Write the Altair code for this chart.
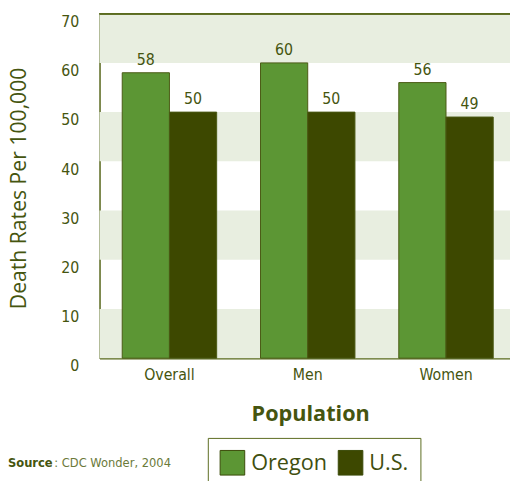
import altair as alt
import pandas as pd

categories = ["Overall", "Men", "Women"]
series = ["Oregon", "U.S."]
oregon = [58, 60, 56]
us = [50, 50, 49]
y_ticks = [0, 10, 20, 30, 40, 50, 60, 70]
band_lo = [0, 20, 40, 60]
band_hi = [10, 30, 50, 70]

W, H = 423, 350
OLIVE = "#5b6b1f"
DARK = "#45550f"
FONT_N = "'Liberation Sans Narrow', 'DejaVu Sans Condensed', 'Roboto Condensed', 'Liberation Sans', sans-serif"
FONT = "Open Sans"

rows = []
for c, o, u in zip(categories, oregon, us):
    rows.append({"Population": c, "Series": "Oregon", "Value": o})
    rows.append({"Population": c, "Series": "U.S.", "Value": u})
df = pd.DataFrame(rows)
bands = pd.DataFrame({"lo": band_lo, "hi": band_hi})

yscale = alt.Scale(domain=[0, 70], nice=False)
xscale = alt.Scale(domain=categories, paddingInner=0.317, paddingOuter=0.164)

band_layer = alt.Chart(bands).mark_rect(color="#e8eee0").encode(
    y=alt.Y("lo:Q", scale=yscale),
    y2="hi:Q",
    x=alt.value(0),
    x2=alt.value(W),
)

top_rule = alt.Chart(bands).mark_rule(color=OLIVE, strokeWidth=1.5).encode(
    y=alt.value(0), x=alt.value(0), x2=alt.value(W)
)

xaxis = alt.Axis(
    labelFont=FONT_N, labelFontSize=16, labelColor=DARK, labelAngle=0,
    ticks=False, tickSize=0, labelPadding=9, domainColor=OLIVE, domainWidth=1.5,
    title="Population", titleFont=FONT, titleFontSize=22, titleFontWeight="bold",
    titleColor=DARK, titleX=214, titleY=63, titleBaseline="alphabetic", titleAlign="center",
)
yaxis = alt.Axis(
    values=y_ticks, grid=False, ticks=False, tickSize=0,
    labelFont=FONT_N, labelFontSize=16, labelColor=DARK, labelPadding=21, labelOffset=8,
    domainColor=OLIVE, domainWidth=1.5,
    title="Death Rates Per 100,000", titleFont=FONT, titleFontSize=21.5, titleFontWeight="normal",
    titleColor=DARK, titleX=-81, titleY=177, titleAngle=270, titleAlign="center", titleBaseline="middle",
)

bars = alt.Chart(df).mark_bar(stroke="#4a5a14", strokeWidth=1).encode(
    x=alt.X("Population:N", scale=xscale, axis=xaxis, sort=categories),
    xOffset=alt.XOffset("Series:N", sort=series, scale=alt.Scale(paddingInner=0, paddingOuter=0)),
    y=alt.Y("Value:Q", scale=yscale, axis=yaxis),
    color=alt.Color(
        "Series:N",
        sort=series,
        scale=alt.Scale(domain=series, range=["#5c9634", "#3d4800"]),
        legend=alt.Legend(
            title=None, orient="none", legendX=110, legendY=431, direction="horizontal",
            columns=2, symbolType="square", symbolSize=625, symbolStrokeColor="#3a4a08",
            symbolStrokeWidth=1, labelFont=FONT, labelFontSize=22, labelColor="#3f4f0f",
            labelOffset=6, columnPadding=8, padding=12, strokeColor=OLIVE, fillColor="white",
            symbolOpacity=1,
        ),
    ),
)

labels = alt.Chart(df).mark_text(
    dy=-8, baseline="alphabetic", font=FONT_N, fontSize=16, color=DARK
).encode(
    x=alt.X("Population:N", scale=xscale, sort=categories),
    xOffset=alt.XOffset("Series:N", sort=series),
    y=alt.Y("Value:Q", scale=yscale),
    text="Value:Q",
)

src = pd.DataFrame({"a": [1]})
src1 = alt.Chart(src).mark_text(
    text="Source", align="left", baseline="alphabetic", font=FONT_N, fontSize=13,
    fontWeight="bold", color=DARK
).encode(x=alt.value(-93), y=alt.value(461))
src2 = alt.Chart(src).mark_text(
    text=": CDC Wonder, 2004", align="left", baseline="alphabetic", font=FONT_N, fontSize=13,
    color="#6b7a3a"
).encode(x=alt.value(-46), y=alt.value(461))

chart = alt.layer(band_layer, top_rule, bars, labels, src1, src2).properties(
    width=W, height=H,
    autosize=alt.AutoSizeParams(type="none"),
    padding={"left": 93, "top": 2, "right": -6, "bottom": 121},
).configure_view(stroke=None).configure(background="white")

chart.save("out.html", embed_options={"renderer": "svg", "actions": False})
